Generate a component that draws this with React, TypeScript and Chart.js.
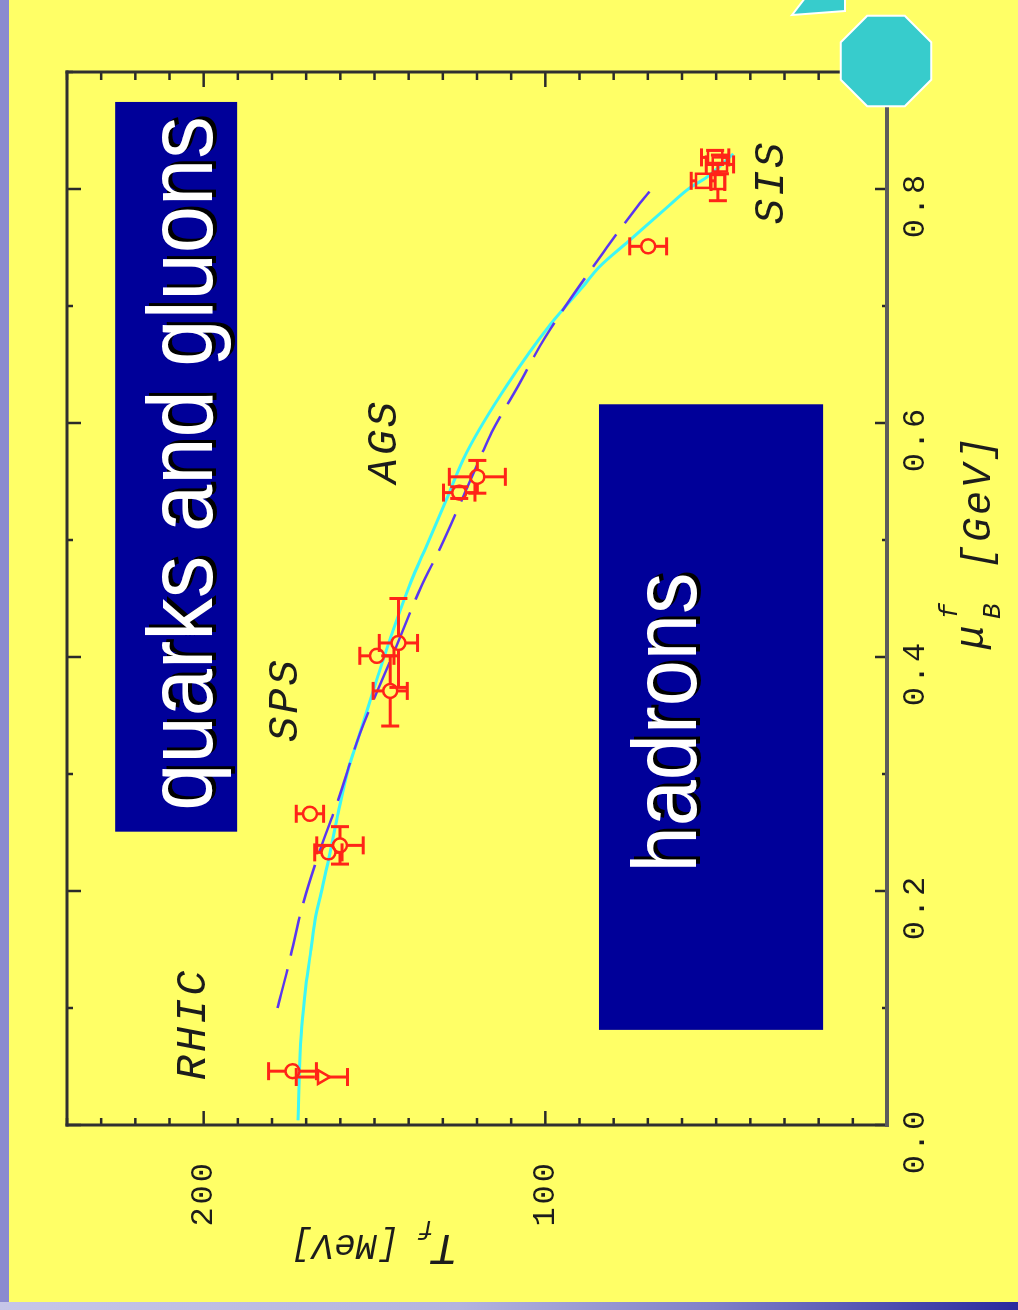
import React, { useEffect, useRef } from 'react';
import { Chart, registerables } from 'chart.js';

Chart.register(...registerables);

// ---------------- data ----------------
// freeze-out points: mu_B^f [GeV] and T_f [MeV]
const circleMu = [0.046, 0.266, 0.239, 0.233, 0.412, 0.401, 0.371, 0.554, 0.5405, 0.751];
const circleT = [174.0, 168.9, 160.1, 163.5, 143.0, 149.3, 145.4, 119.9, 125.2, 69.9];
const circleErrT = [7, 4, 6.8, 4, 5.6, 5, 5, 8.2, 4.6, 5.4];
const circleErrMu = [0, 0, 0.016, 0, 0.038, 0, 0.03, 0.014, 0.005, 0];

const triangleMu = [0.041];
const triangleT = [165.4];
const triangleErrT = [7.5];
const triangleErrMu = [0];

const squareMu = [0.827, 0.821, 0.807, 0.806];
const squareT = [50.3, 48.9, 53.8, 49.5];
const squareErrT = [4, 4, 3.5, 2];
const squareErrMu = [0.006, 0.008, 0, 0.016];

// solid cyan freeze-out curve
const cyanMu = [0.004, 0.044, 0.084, 0.118, 0.15, 0.175, 0.195, 0.2325, 0.267, 0.304, 0.331, 0.381, 0.4235, 0.466, 0.492, 0.535, 0.575, 0.632, 0.684, 0.717, 0.734, 0.754, 0.784, 0.801, 0.81, 0.83];
const cyanT = [172.4, 172.0, 171.3, 170.1, 168.6, 167.4, 165.9, 163.0, 160.6, 157.7, 154.7, 149.3, 144.5, 139.1, 135.2, 128.9, 123.0, 111.3, 98.6, 88.9, 84.0, 76.2, 64.5, 57.7, 52.8, 45.0];

// dashed purple curve
const purpleMu = [0.1, 0.136, 0.185, 0.227, 0.278, 0.335, 0.4, 0.461, 0.493, 0.57, 0.592, 0.632, 0.673, 0.75, 0.786, 0.8];
const purpleT = [178.4, 175.2, 171.3, 166.9, 160.6, 154.2, 144.9, 136.2, 130.8, 119.1, 115.7, 107.9, 100.1, 82.0, 72.8, 68.9];

// region labels
const regionLabels = ['RHIC', 'SPS', 'AGS', 'SIS'];
const regionLabelMu = [0.0864, 0.3636, 0.5844, 0.806];
const regionLabelT = [199.6, 172.7, 143.7, 30.4];

// phase boxes
const phaseNames = ['quarks and gluons', 'hadrons'];
const phaseMuFrom = [0.2507, 0.0813];
const phaseMuTo = [0.8744, 0.616];
const phaseTFrom = [190.2, 18.7];
const phaseTTo = [225.9, 84.3];
const phaseTextMu = [0.5654, 0.344];
const phaseTextT = [197.5, 55.8];

// axes
const muMin = 0;
const muMax = 0.9;
const muStep = 0.1;
const tMin = 0;
const tMax = 240;
const tStep = 10;
const tLabelled = [100, 200];

// ---------------- styles ----------------
const RED = '#ff2418';
const MONO = '"Liberation Mono", "DejaVu Sans Mono", monospace';
const SANS = '"Liberation Sans", Arial, sans-serif';
const INK = '#1c1c1c';

const toPts = (xs: number[], ys: number[]) => xs.map((x, i) => ({ x, y: ys[i] }));

const bgPlugin = {
  id: 'slideBg',
  beforeDraw(chart: any) {
    const { ctx, width, height } = chart;
    ctx.save();
    ctx.fillStyle = '#ffff66';
    ctx.fillRect(0, 0, width, height);
    ctx.fillStyle = '#8a8ad0';
    ctx.fillRect(0, 0, width, 9);
    const g = ctx.createLinearGradient(0, 0, 0, height);
    g.addColorStop(0, '#c6c6e8');
    g.addColorStop(0.45, '#b4b4de');
    g.addColorStop(0.7, '#8080c8');
    g.addColorStop(1, '#2a2a9e');
    ctx.fillStyle = g;
    ctx.fillRect(0, 0, 8, height);
    ctx.restore();
    ctx.letterSpacing = '3px';
  },
};

const boxPlugin = {
  id: 'phaseBoxes',
  beforeDatasetsDraw(chart: any) {
    const { ctx, scales } = chart;
    const x = scales.x, y = scales.y;
    ctx.save();
    ctx.letterSpacing = '0px';
    phaseNames.forEach((name, i) => {
      const x1 = x.getPixelForValue(phaseMuFrom[i]);
      const x2 = x.getPixelForValue(phaseMuTo[i]);
      const y1 = y.getPixelForValue(phaseTTo[i]);
      const y2 = y.getPixelForValue(phaseTFrom[i]);
      ctx.fillStyle = '#000099';
      ctx.fillRect(x1, y1, x2 - x1, y2 - y1);
      const cx = x.getPixelForValue(phaseTextMu[i]);
      const by = y.getPixelForValue(phaseTextT[i]);
      ctx.save();
      ctx.translate(cx, by);
      ctx.scale(1, 1.1);
      ctx.font = `${i === 0 ? 85 : 83}px ${SANS}`;
      ctx.textAlign = 'center';
      ctx.textBaseline = 'alphabetic';
      ctx.fillStyle = '#000000';
      ctx.fillText(name, 3, 3);
      ctx.fillStyle = '#ffffff';
      ctx.fillText(name, 0, 0);
      ctx.restore();
    });
    ctx.restore();
  },
};

const errorBarPlugin = {
  id: 'errorBars',
  afterDatasetsDraw(chart: any) {
    const { ctx, scales } = chart;
    const x = scales.x, y = scales.y;
    const CAP = 9;
    ctx.save();
    ctx.strokeStyle = RED;
    ctx.lineWidth = 3;
    const seg = (a: number, b: number, c: number, d: number) => {
      ctx.beginPath();
      ctx.moveTo(a, b);
      ctx.lineTo(c, d);
      ctx.stroke();
    };
    chart.data.datasets.forEach((ds: any) => {
      if (!ds.errT) return;
      const h = ds.markerHalf;
      ds.data.forEach((pt: any, i: number) => {
        const px = x.getPixelForValue(pt.x);
        const py = y.getPixelForValue(pt.y);
        const eT = ds.errT[i];
        const eM = ds.errMu[i];
        if (eT > 0) {
          const yHi = y.getPixelForValue(pt.y + eT);
          const yLo = y.getPixelForValue(pt.y - eT);
          if (py - yHi > h) seg(px, py - h, px, yHi);
          if (yLo - py > h) seg(px, py + h, px, yLo);
          seg(px - CAP, yHi, px + CAP, yHi);
          seg(px - CAP, yLo, px + CAP, yLo);
        }
        if (eM > 0) {
          const xLo = x.getPixelForValue(pt.x - eM);
          const xHi = x.getPixelForValue(pt.x + eM);
          if (px - xLo > h) seg(px - h, py, xLo, py);
          if (xHi - px > h) seg(px + h, py, xHi, py);
          seg(xLo, py - CAP, xLo, py + CAP);
          seg(xHi, py - CAP, xHi, py + CAP);
        }
      });
    });
    ctx.restore();
  },
};

const framePlugin = {
  id: 'frameTicks',
  afterDraw(chart: any) {
    const { ctx, chartArea: a, scales } = chart;
    const xs = scales.x, ys = scales.y;
    ctx.save();
    ctx.letterSpacing = '0px';
    const seg = (p: number, q: number, r: number, s: number) => {
      ctx.beginPath();
      ctx.moveTo(p, q);
      ctx.lineTo(r, s);
      ctx.stroke();
    };
    ctx.strokeStyle = '#2a2a2a';
    ctx.lineWidth = 2.5;
    xs.ticks.forEach((t: any) => {
      const p = xs.getPixelForValue(t.value);
      const major = t.label !== '';
      seg(p, a.bottom, p, a.bottom - (major ? 12 : 5));
      seg(p, a.top, p, a.top + (major ? 14 : 6));
    });
    ys.ticks.forEach((t: any) => {
      const p = ys.getPixelForValue(t.value);
      const major = tLabelled.includes(t.value);
      seg(a.left, p, a.left + (major ? 14 : 7), p);
      seg(a.right, p, a.right - (major ? 15 : 8), p);
    });
    ctx.lineWidth = 3;
    ctx.strokeStyle = '#303030';
    ctx.lineCap = 'square';
    seg(a.left, a.top, a.right, a.top);
    seg(a.left, a.top, a.left, a.bottom);
    seg(a.right, a.top, a.right, a.bottom);
    ctx.strokeStyle = '#5c5c5c';
    ctx.lineWidth = 4;
    seg(a.left, a.bottom, a.right, a.bottom);
    ctx.restore();
  },
};

const textPlugin = {
  id: 'texts',
  afterDraw(chart: any) {
    const { ctx, chartArea: a, scales } = chart;
    const x = scales.x, y = scales.y;
    ctx.save();
    ctx.fillStyle = INK;
    ctx.textBaseline = 'alphabetic';
    // region labels
    ctx.letterSpacing = '3px';
    ctx.textAlign = 'center';
    ctx.font = `italic 42px ${MONO}`;
    regionLabels.forEach((lab, i) => {
      ctx.fillText(lab, x.getPixelForValue(regionLabelMu[i]), y.getPixelForValue(regionLabelT[i]));
    });
    // x-axis title: mu_B^f [GeV]
    ctx.textAlign = 'left';
    ctx.letterSpacing = '0px';
    const ux = a.left + 476;
    ctx.font = `italic 40px ${MONO}`;
    ctx.fillText('\u03bc', ux, a.bottom + 96);
    ctx.font = `italic 26px ${MONO}`;
    ctx.fillText('f', ux + 30, a.bottom + 70);
    ctx.fillText('B', ux + 30, a.bottom + 113);
    ctx.letterSpacing = '3px';
    ctx.font = `italic 40px ${MONO}`;
    ctx.fillText('[GeV]', a.left + 556, a.bottom + 103);
    // y-axis title: T_f [MeV] (rotated)
    ctx.translate(75, 458);
    ctx.rotate(-Math.PI / 2);
    ctx.letterSpacing = '0px';
    ctx.font = `italic 44px ${MONO}`;
    ctx.fillText('T', 0, 0);
    ctx.font = `italic 26px ${MONO}`;
    ctx.fillText('f', 24, 14);
    ctx.font = `italic 36px ${MONO}`;
    ctx.fillText('[MeV]', 59, 0);
    ctx.restore();
  },
};

const decoPlugin = {
  id: 'slideDeco',
  afterDraw(chart: any) {
    const { ctx } = chart;
    ctx.save();
    ctx.fillStyle = '#37cccc';
    ctx.strokeStyle = '#ffffff';
    ctx.lineWidth = 2;
    ctx.beginPath();
    const cx = 1249, cy = 886, R = 49;
    for (let k = 0; k < 8; k++) {
      const ang = Math.PI / 8 + (k * Math.PI) / 4;
      const px = cx + R * Math.cos(ang);
      const py = cy + R * Math.sin(ang);
      if (k === 0) ctx.moveTo(px, py);
      else ctx.lineTo(px, py);
    }
    ctx.closePath();
    ctx.fill();
    ctx.stroke();
    ctx.beginPath();
    ctx.moveTo(1295, 792);
    ctx.lineTo(1312, 805);
    ctx.lineTo(1312, 845);
    ctx.lineTo(1299, 845);
    ctx.closePath();
    ctx.fill();
    ctx.stroke();
    ctx.restore();
  },
};

export default function App() {
  const ref = useRef<HTMLCanvasElement>(null);

  useEffect(() => {
    const canvas = ref.current;
    if (!canvas) return;
    const chart = new Chart(canvas, {
      type: 'scatter',
      data: {
        datasets: [
          {
            label: 'circles',
            data: toPts(circleMu, circleT),
            pointStyle: 'circle',
            pointRadius: 7,
            borderColor: RED,
            backgroundColor: 'rgba(0,0,0,0)',
            borderWidth: 2.5,
            order: 0,
            errT: circleErrT,
            errMu: circleErrMu,
            markerHalf: 7,
          } as any,
          {
            label: 'triangles',
            data: toPts(triangleMu, triangleT),
            pointStyle: 'triangle',
            rotation: 180,
            pointRadius: 8,
            borderColor: RED,
            backgroundColor: 'rgba(0,0,0,0)',
            borderWidth: 2.5,
            order: 0,
            errT: triangleErrT,
            errMu: triangleErrMu,
            markerHalf: 7,
          } as any,
          {
            label: 'squares',
            data: toPts(squareMu, squareT),
            pointStyle: 'rect',
            pointRadius: 10,
            borderColor: RED,
            backgroundColor: 'rgba(0,0,0,0)',
            borderWidth: 2.5,
            order: 0,
            errT: squareErrT,
            errMu: squareErrMu,
            markerHalf: 7,
          } as any,
          {
            label: 'dashed',
            data: toPts(purpleMu, purpleT),
            showLine: true,
            pointRadius: 0,
            borderColor: '#5a36f0',
            borderWidth: 2.5,
            borderDash: [40, 14],
            cubicInterpolationMode: 'monotone',
            order: 1,
          },
          {
            label: 'solid',
            data: toPts(cyanMu, cyanT),
            showLine: true,
            pointRadius: 0,
            borderColor: '#3cf6f6',
            borderWidth: 3,
            cubicInterpolationMode: 'monotone',
            order: 2,
          },
        ],
      },
      options: {
        responsive: false,
        animation: false,
        devicePixelRatio: 1,
        layout: { padding: { left: 0, right: 72, top: 67, bottom: 0 } },
        plugins: {
          legend: { display: false },
          tooltip: { enabled: false },
        },
        scales: {
          x: {
            type: 'linear',
            min: muMin,
            max: muMax,
            afterFit: (s: any) => {
              s.height = 131;
            },
            grid: { display: false, drawTicks: false },
            border: { display: false },
            ticks: {
              stepSize: muStep,
              autoSkip: false,
              maxRotation: 0,
              minRotation: 0,
              padding: 9,
              labelOffset: -16,
              color: INK,
              font: { family: MONO, size: 32 },
              callback: (v: any) => {
                const k = Math.round(Number(v) * 10);
                return k % 2 === 0 ? (k / 10).toFixed(1) : '';
              },
            },
          },
          y: {
            type: 'linear',
            min: tMin,
            max: tMax,
            afterFit: (s: any) => {
              s.width = 185;
            },
            grid: { display: false, drawTicks: false },
            border: { display: false },
            ticks: {
              stepSize: tStep,
              autoSkip: false,
              padding: 35,
              color: INK,
              font: { family: MONO, size: 32 },
              callback: (v: any) => (tLabelled.includes(Number(v)) ? String(v) : ''),
            },
          },
        },
      } as any,
      plugins: [bgPlugin, boxPlugin, errorBarPlugin, framePlugin, textPlugin, decoPlugin],
    });
    return () => chart.destroy();
  }, []);

  return (
    <div
      style={{
        position: 'absolute',
        left: 0,
        top: 0,
        width: 1018,
        height: 1310,
        overflow: 'hidden',
        background: '#ffff66',
      }}
    >
      <div
        style={{
          position: 'absolute',
          left: 0,
          top: 0,
          width: 1310,
          height: 1018,
          transformOrigin: '0 0',
          transform: 'translateY(1310px) rotate(-90deg)',
        }}
      >
        <canvas ref={ref} width={1310} height={1018} style={{ display: 'block', width: 1310, height: 1018 }} />
      </div>
    </div>
  );
}
